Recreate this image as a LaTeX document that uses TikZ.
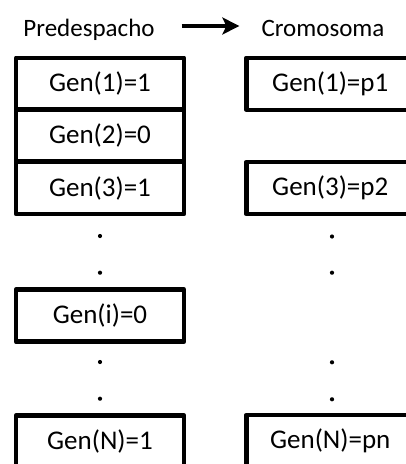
\documentclass[tikz,border=0pt]{standalone}
\usepackage{fontspec}
\setmainfont{Carlito}
\usetikzlibrary{arrows.meta}
\tikzset{
  genbox/.style={draw=black, line width=4.5pt, line join=round, minimum width=168pt, minimum height=52pt, inner sep=0pt, font=\fontsize{27}{27}\selectfont},
  header/.style={inner sep=0pt, anchor=base, font=\fontsize{25}{25}\selectfont},
  vdot/.style={fill=black, circle, inner sep=0pt, minimum size=4.2pt},
}
\begin{document}
\begin{tikzpicture}[x=1pt,y=-1pt]
\useasboundingbox (0,0) rectangle (406,464);
\clip (0,0) rectangle (406,464);
\fill[white] (0,0) rectangle (406,464);

% column headings and the arrow between them
\node[header] (pre) at (89,36) {Predespacho};
\node[header] (cro) at (323,36) {Cromosoma};
\draw[line width=4.2pt, -{Stealth[length=17pt,width=17pt,inset=4pt]}, shorten <=27pt, shorten >=22pt]
  ([yshift=10pt]pre.base east) -- ([yshift=10pt]cro.base west);

% left column: Predespacho genes
\node[genbox] (l1) at (100,83.75) {Gen(1)=1};
\node[genbox] (l2) at (100,135.5) {Gen(2)=0};
\node[genbox] (l3) at (100,188) {Gen(3)=1};
\node[genbox] (li) at (100,315.7) {Gen(i)=0};
\node[genbox] (ln) at (100,441.5) {Gen(N)=1};

% right column: Cromosoma genes
\node[genbox] (r1) at (330.25,83.75) {Gen(1)=p1};
\node[genbox] (r3) at (330.25,188) {Gen(3)=p2};
\node[genbox] (rn) at (330.25,441) {Gen(N)=pn};

% ellipsis dots
\node[vdot] (ld1) at (100,236) {};
\node[vdot] (ld2) at (100,272.7) {};
\node[vdot] (ld3) at (100,362) {};
\node[vdot] (ld4) at (100,398.7) {};
\node[vdot] (rd1) at (332,236.5) {};
\node[vdot] (rd2) at (332,272.7) {};
\node[vdot] (rd3) at (332,362.3) {};
\node[vdot] (rd4) at (332,399.3) {};
\end{tikzpicture}
\end{document}
